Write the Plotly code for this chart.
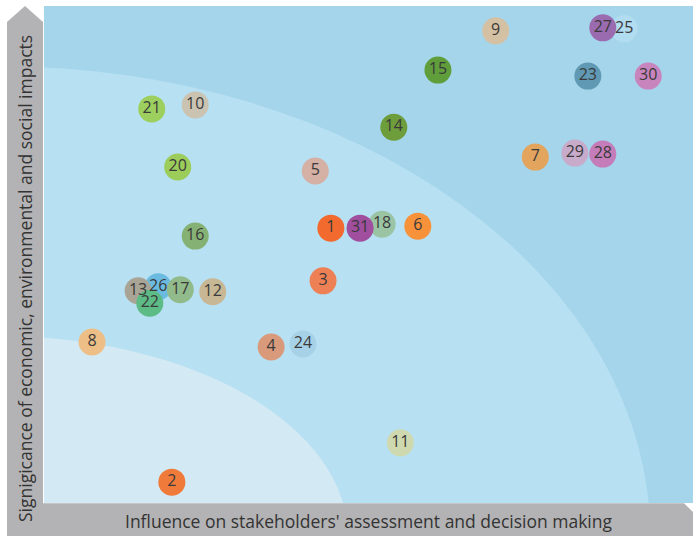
import plotly.graph_objects as go

# Topic numbers (draw order: later items are drawn on top)
labels = ["1", "2", "3", "4", "5", "6", "7", "8", "9", "10", "11", "12",
          "26", "13", "14", "15", "16", "17", "18", "20", "21", "22", "23",
          "24", "25", "27", "28", "29", "30", "31"]
# Influence on stakeholders' assessment (0-10)
influence = [4.42, 1.97, 4.30, 3.50, 4.18, 5.76, 7.57, 0.74, 6.96, 2.33, 5.49, 2.60,
             1.76, 1.45, 5.39, 6.07, 2.33, 2.10, 5.21, 2.06, 1.66, 1.63, 8.38,
             3.99, 8.94, 8.61, 8.61, 8.18, 9.31, 4.87]
# Significance of impacts (0-10)
significance = [5.53, 0.42, 4.47, 3.14, 6.68, 5.57, 6.96, 3.24, 9.50, 8.01, 1.21, 4.25,
                4.35, 4.27, 7.56, 8.71, 5.37, 4.29, 5.61, 6.76, 7.93, 4.02, 8.59,
                3.20, 9.54, 9.56, 7.02, 7.04, 8.59, 5.53]
colors = ["#f26a2e", "#f07a3a", "#ee8055", "#d99a7c", "#d4b0a5", "#f7923a", "#e3a45e",
          "#edbf86", "#d4c1a3", "#cbc3b2", "#cfd9b0", "#c8b794", "#6bbbe0", "#a9a596",
          "#6e9e3c", "#5f9e3a", "#86b174", "#92bb8b", "#9bc4a5", "#9ccc5a", "#9ccf5e",
          "#5dbb85", "#5f99b3", "#a6d1e6", "#b2dcf0", "#9b6bb0", "#c47db8", "#c8aacb",
          "#c884bd", "#a04e9e"]

x_title = "Influence on stakeholders' assessment and decision making"
y_title = "Signigicance of economic, environmental and social impacts"

fig = go.Figure()
fig.add_trace(go.Scatter(
    x=influence, y=significance, mode="markers+text",
    text=labels, textposition="middle center",
    textfont=dict(family="Open Sans, Roboto, sans-serif", size=16, color="#3a3a3a"),
    marker=dict(size=27, color=colors, line=dict(width=0)),
    hoverinfo="text", showlegend=False, cliponaxis=False,
))

OUTER = "#a5d5eb"
MIDDLE = "#b7e0f2"
INNER = "#d3e9f4"
GREY = "#b3b3b5"

# Background bands (quarter ellipses from lower-left corner)
cx, cy = -0.678, -0.664
shapes = [
    dict(type="circle", xref="x", yref="y", x0=cx - 10.02, x1=cx + 10.02,
         y0=cy - 9.45, y1=cy + 9.45, fillcolor=MIDDLE, line=dict(width=0), layer="below"),
    dict(type="circle", xref="x", yref="y", x0=cx - 5.36, x1=cx + 5.36,
         y0=cy - 4.02, y1=cy + 4.02, fillcolor=INNER, line=dict(width=0), layer="below"),
    # vertical arrow bar
    dict(type="path", xref="paper", yref="paper",
         path="M -0.0570 -0.0664 L -0.0570 0.9678 L -0.0293 1.0 L -0.00154 0.9678 L -0.00154 -0.0664 Z",
         fillcolor=GREY, line=dict(width=0), layer="above"),
    # horizontal arrow bar
    dict(type="path", xref="paper", yref="paper",
         path="M -0.0570 -0.0664 L -0.0570 -0.0005 L 0.9861 -0.0005 L 1.0 -0.0181 L 1.0 -0.0664 Z",
         fillcolor=GREY, line=dict(width=0), layer="above"),
]

annotations = [
    dict(text=y_title, xref="paper", yref="paper", x=-0.0293, y=0.4527,
         textangle=-90, showarrow=False, xanchor="center", yanchor="middle",
         font=dict(family="Open Sans, Roboto, sans-serif", size=17.5, color="#333333")),
    dict(text=x_title, xref="paper", yref="paper", x=0.5, y=-0.0362,
         showarrow=False, xanchor="center", yanchor="middle",
         font=dict(family="Open Sans, Roboto, sans-serif", size=17.5, color="#333333")),
]

fig.update_layout(
    width=693, height=536,
    margin=dict(l=44, r=0, t=6, b=33),
    paper_bgcolor="white", plot_bgcolor=OUTER,
    shapes=shapes, annotations=annotations,
    xaxis=dict(range=[0, 10], showgrid=False, zeroline=False, showticklabels=False,
               showline=False, ticks="", fixedrange=True),
    yaxis=dict(range=[0, 10], showgrid=False, zeroline=False, showticklabels=False,
               showline=False, ticks="", fixedrange=True),
)

fig.write_html("out.html", config={"displayModeBar": False},
               post_script="document.body.style.margin='0';document.body.style.overflow='hidden';")
